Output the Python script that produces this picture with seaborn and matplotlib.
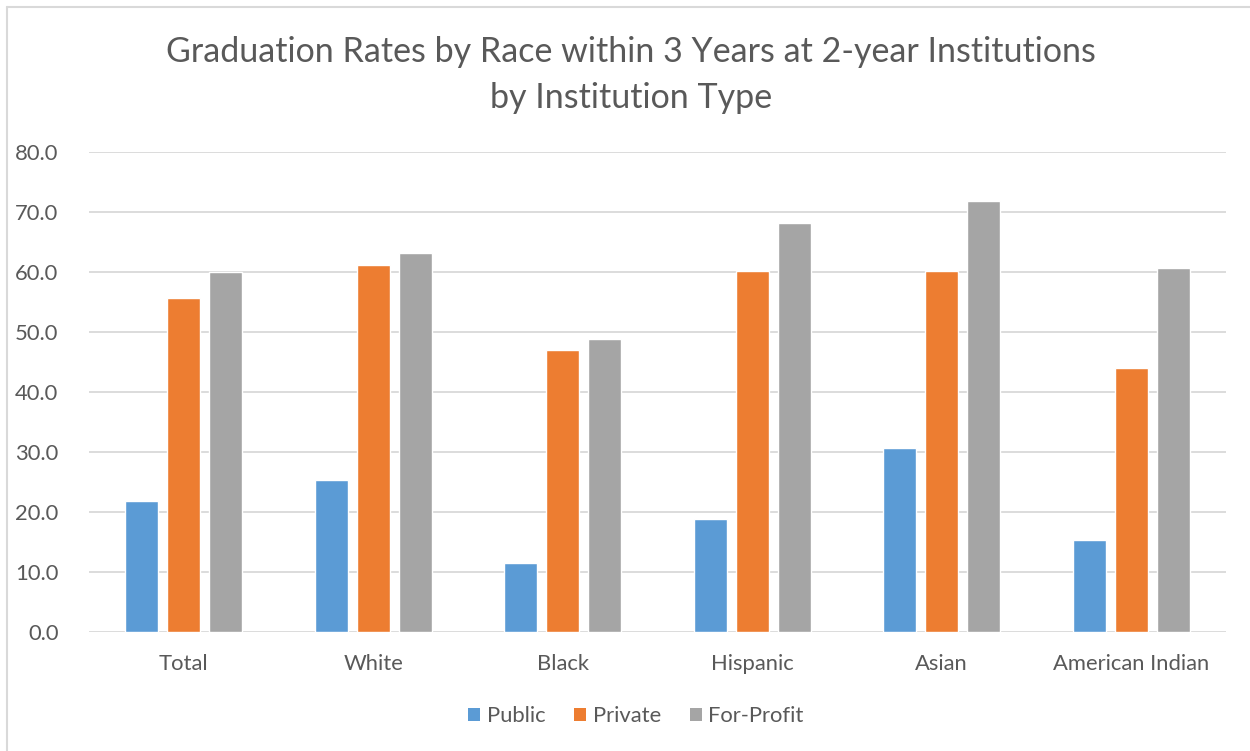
import pandas as pd
import seaborn as sns
import matplotlib.pyplot as plt
from matplotlib.lines import Line2D
from matplotlib.patches import Patch

# values
races = ['Total', 'White', 'Black', 'Hispanic', 'Asian', 'American Indian']
inst_types = ['Public', 'Private', 'For-Profit']
public = [21.8, 25.3, 11.5, 18.9, 30.6, 15.3]
private = [55.7, 61.2, 47.0, 60.2, 60.1, 44.0]
for_profit = [60.0, 63.1, 48.9, 68.2, 71.8, 60.7]
y_ticks = [0, 10, 20, 30, 40, 50, 60, 70, 80]

colors = ['#5B9BD5', '#ED7D31', '#A5A5A5']
text_color = '#595959'
grid_color = '#D9D9D9'


def build_frame():
    rows = []
    for name, vals in zip(inst_types, [public, private, for_profit]):
        for race, v in zip(races, vals):
            rows.append({'race': race, 'type': name, 'rate': v})
    return pd.DataFrame(rows)


def draw(df):
    sns.set_style('white')
    plt.rcParams['font.family'] = ['Lato', 'DejaVu Sans']

    fig = plt.figure(figsize=(12.5, 7.51), dpi=100)
    ax = fig.add_axes([89 / 1250, 1 - 632 / 751, (1226 - 89) / 1250, 480 / 751])

    sns.barplot(data=df, x='race', y='rate', hue='type', hue_order=inst_types,
                order=races, palette=colors, saturation=1, width=0.666, gap=0.21,
                errorbar=None, legend=False, ax=ax)

    ax.set_ylim(0, 80)
    ax.set_xlim(-0.5, len(races) - 0.5)
    ax.set_yticks(y_ticks)
    ax.set_yticklabels([f'{t:.1f}' for t in y_ticks])
    ax.yaxis.grid(True, color=grid_color, linewidth=1.3)
    ax.set_axisbelow(True)
    for s in ax.spines.values():
        s.set_visible(False)
    ax.tick_params(axis='both', length=0, labelsize=15.8, colors=text_color)
    ax.tick_params(axis='y', pad=22)
    ax.tick_params(axis='x', pad=16)
    ax.set_xlabel('')
    ax.set_ylabel('')

    fig.text(0.505, 1 - 75 / 751, 'Graduation Rates by Race within 3 Years at 2-year Institutions\nby Institution Type',
             ha='center', va='center', fontsize=24.5, color=text_color, linespacing=1.5)

    handles = [Patch(facecolor=c, edgecolor='none') for c in colors]
    fig.legend(handles, inst_types, loc='center', bbox_to_anchor=(636 / 1250, 1 - 716 / 751),
               ncol=3, frameon=False, fontsize=15.8, handlelength=0.55, handleheight=0.55,
               handletextpad=0.3, columnspacing=1.3, labelcolor=text_color)

    # chart border (only left and top edges are visible in the crop)
    fig.add_artist(Line2D([7 / 1250, 7 / 1250], [0, 1 - 7 / 751], transform=fig.transFigure,
                          color=grid_color, linewidth=1.5))
    fig.add_artist(Line2D([7 / 1250, 1], [1 - 7 / 751, 1 - 7 / 751], transform=fig.transFigure,
                          color=grid_color, linewidth=1.5))

    fig.savefig('out.png', dpi=100)


if __name__ == '__main__':
    draw(build_frame())
